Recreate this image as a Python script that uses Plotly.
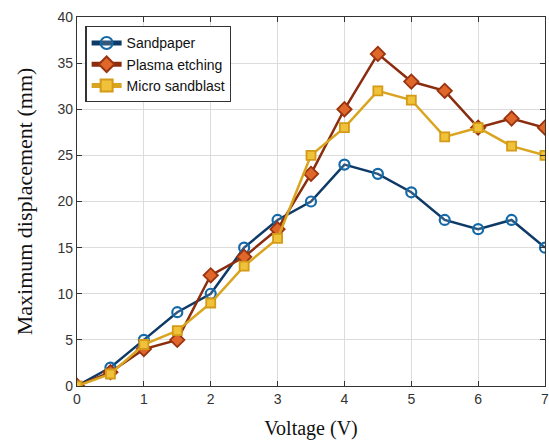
import plotly.graph_objects as go

# Applied voltage (V)
voltage = [0, 0.5, 1, 1.5, 2, 2.5, 3, 3.5, 4, 4.5, 5, 5.5, 6, 6.5, 7]

# Maximum displacement (mm) for each surface treatment
sandpaper = [0, 2, 5, 8, 10, 15, 18, 20, 24, 23, 21, 18, 17, 18, 15]
plasma_etching = [0, 1.5, 4, 5, 12, 14, 17, 23, 30, 36, 33, 32, 28, 29, 28]
micro_sandblast = [0, 1.3, 4.5, 6, 9, 13, 16, 25, 28, 32, 31, 27, 28, 26, 25]

x_ticks = [0, 1, 2, 3, 4, 5, 6, 7]
y_ticks = [0, 5, 10, 15, 20, 25, 30, 35, 40]

fig = go.Figure()

fig.add_trace(go.Scatter(
    x=voltage, y=sandpaper, name="Sandpaper", mode="lines+markers",
    line=dict(color="#0d3a66", width=2.5),
    marker=dict(symbol="circle", size=10, color="rgba(255,255,255,0.15)",
                line=dict(color="#1469a8", width=2.2)),
))
fig.add_trace(go.Scatter(
    x=voltage, y=plasma_etching, name="Plasma etching", mode="lines+markers",
    line=dict(color="#8a2c0e", width=2.5),
    marker=dict(symbol="diamond", size=11, color="#e0672a",
                line=dict(color="#9a3410", width=1.8)),
))
fig.add_trace(go.Scatter(
    x=voltage, y=micro_sandblast, name="Micro sandblast", mode="lines+markers",
    line=dict(color="#d9a520", width=2.5),
    marker=dict(symbol="square", size=9, color="#f0c23a",
                line=dict(color="#d49a18", width=1.8)),
))

fig.update_layout(
    width=549, height=441,
    margin=dict(l=77, r=4, t=17, b=55),
    paper_bgcolor="white", plot_bgcolor="white",
    font=dict(family="Liberation Sans, Arial, sans-serif", size=13, color="#222"),
    showlegend=True,
    legend=dict(
        x=0.018, y=0.975, xanchor="left", yanchor="top",
        bgcolor="white", bordercolor="#333", borderwidth=1.2,
        font=dict(family="Liberation Sans, Arial, sans-serif", size=14, color="#111"),
        tracegroupgap=0, itemsizing="constant",
    ),
)

fig.update_xaxes(
    range=[0, 7], tickvals=x_ticks, ticktext=[str(v) for v in x_ticks],
    ticklabeloverflow="allow", automargin=False,
    showgrid=True, gridcolor="#dcdcdc", gridwidth=1,
    showline=True, linecolor="#333", linewidth=1.2, mirror="ticks",
    ticks="inside", ticklen=5, tickcolor="#333",
    zeroline=False,
    tickfont=dict(family="Liberation Sans, Arial, sans-serif", size=14, color="#333"),
    title=dict(text="Voltage (V)",
               font=dict(family="Liberation Serif, Times New Roman, serif", size=20, color="#111")),
)
fig.update_yaxes(
    range=[0, 40], tickvals=y_ticks, ticktext=[str(v) for v in y_ticks],
    showgrid=True, gridcolor="#dcdcdc", gridwidth=1,
    showline=True, linecolor="#333", linewidth=1.2, mirror="ticks",
    ticks="inside", ticklen=5, tickcolor="#333",
    zeroline=False,
    tickfont=dict(family="Liberation Sans, Arial, sans-serif", size=14, color="#333"),
    title=dict(text="Maximum displacement (mm)", standoff=18,
               font=dict(family="Liberation Serif, Times New Roman, serif", size=22, color="#111")),
)

fig.write_html("out.html")
